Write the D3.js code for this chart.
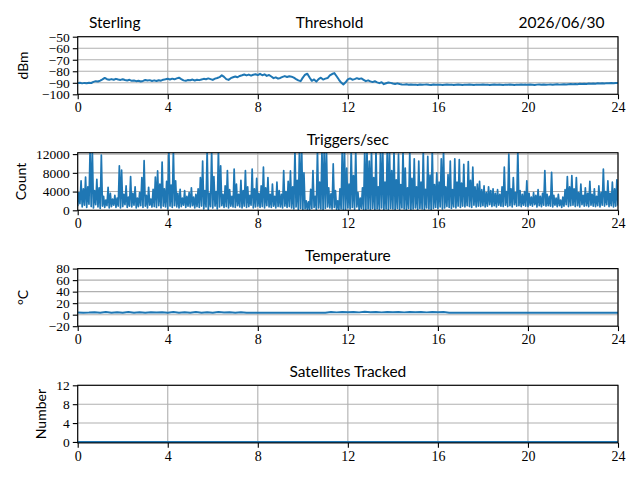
<!DOCTYPE html>
<html><head><meta charset="utf-8">
<script src="https://cdn.jsdelivr.net/npm/d3@7"></script>
<style>body{margin:0;background:#fff}svg{display:block}
.tk text{font-family:"Liberation Serif","DejaVu Serif",serif !important;}
</style>
</head><body>
<script>
// ---------- data ----------
const hourTicks = [0, 4, 8, 12, 16, 20, 24];
const thresholdTicks = [-100, -90, -80, -70, -60, -50];
const triggerTicks = [0, 4000, 8000, 12000];
const temperatureTicks = [-20, 0, 20, 40, 60, 80];
const satelliteTicks = [0, 4, 8, 12];

// Threshold (dBm), every 0.1 h from 0 to 24
const threshold = [
 -90.3,-90.0,-90.5,-90.1,-90.4,-89.9,-90.2,
 -89.2,-88.6,-88.9,-88.1,
 -87.0,-85.8,-86.9,
 -87.3,-86.8,-87.4,-86.6,-87.2,-87.5,-86.9,
 -87.6,-88.0,-87.4,-88.3,-88.0,-88.6,-88.2,-88.9,-88.4,-87.6,
 -88.1,-87.7,-88.4,-87.9,-88.5,-87.8,-88.2,-87.3,-87.0,
 -86.5,-87.1,-86.4,-87.0,-86.2,-85.6,-86.8,-87.9,-88.3,-87.6,
 -87.8,-87.2,-88.0,-87.4,-87.7,-87.1,-86.6,-86.9,-86.2,-86.8,
 -87.5,-86.4,-85.8,-85.1,-83.4,-84.9,-86.8,-87.5,-86.0,-85.2,
 -84.6,-85.2,-84.1,-83.5,-82.8,-83.6,-82.9,-83.8,-83.0,-82.6,
 -83.4,-82.2,-83.5,-82.7,-84.0,-83.2,-84.6,-86.0,-85.3,-86.4,
 -85.8,-84.9,-84.2,-85.0,-84.3,-84.7,-85.6,-86.8,-87.9,-88.6,
 -85.5,-83.0,-82.2,-85.4,-88.3,-87.1,-89.0,-86.8,-85.6,-87.2,
 -86.4,-85.9,-83.6,-82.4,-81.6,-84.3,-87.2,-89.8,-91.4,-89.6,
 -87.1,-86.2,-87.3,-86.8,-86.0,-86.7,-86.2,-87.4,-88.6,-87.9,
 -88.8,-89.4,-88.7,-89.6,-90.3,-89.5,-91.2,-90.4,-89.7,-90.1,
 -90.6,-91.0,-90.5,-91.1,-91.4,-91.6,-91.3,-91.7,-91.5,-91.8,
 -91.6,-91.9,-91.5,-91.8,-91.6,-91.4,-91.7,-91.9,-91.5,-91.7,
 -91.8,-91.6,-91.9,-91.7,-91.5,-91.8,-91.6,-91.9,-91.7,-91.5,
 -91.7,-91.9,-91.6,-91.8,-91.5,-91.7,-91.9,-91.6,-91.8,-91.7,
 -91.5,-91.8,-91.6,-91.9,-91.7,-91.5,-91.8,-91.6,-91.7,-91.9,
 -91.6,-91.8,-91.5,-91.7,-91.9,-91.6,-91.8,-91.5,-91.7,-91.6,
 -91.8,-91.5,-91.7,-91.9,-91.6,-91.4,-91.7,-91.5,-91.8,-91.6,
 -91.4,-91.7,-91.5,-91.3,-91.6,-91.4,-91.2,-91.5,-91.3,-91.1,
 -91.3,-91.0,-91.2,-90.9,-91.1,-90.8,-91.0,-90.7,-90.9,-90.6,
 -90.8,-90.5,-90.7,-90.4,-90.6,-90.3,-90.5,-90.2,-90.4,-90.1,
 -90.3
];

// Triggers/sec: high samples at (i*0.1 + 0.05) h
const triggerPeaks = [
 3800,6300,4600,7100,5000,13000,13000,4200,6600,4800,
 11800,3000,2200,4900,3600,2400,3200,2600,9500,8600,
 3400,5200,2800,7200,3600,5000,2600,3800,7000,10600,
 3200,4900,2400,4500,7100,8400,5600,10300,4600,6200,
 13000,5400,13000,6300,3600,4500,2600,4200,3000,3800,
 4800,2800,3400,4600,7000,10500,4200,13000,3600,13000,
 7200,4000,13000,9500,3400,5200,8500,4400,3000,8800,
 5600,3400,6400,4200,8500,5000,3200,8800,4600,6800,
 3600,5200,9200,4800,7000,3400,5600,3000,6000,4200,
 3400,8500,4000,6200,8400,5000,13000,6400,13000,13000,
 8000,2000,1800,4500,8500,3000,13000,6000,13000,13000,
 13000,4800,3500,9900,4200,2000,4600,13000,13000,9000,
 5600,13000,7400,13000,3800,2600,4800,13000,13000,10500,
 13000,7000,13000,5000,13000,13000,6000,13000,13000,8500,
 13000,6500,12000,5500,13000,9000,4800,12500,6800,11000,
 5000,10500,6000,13000,4500,11500,7500,13000,5500,8000,
 6000,11000,13000,5000,7600,10500,4400,11000,6000,10800,
 5800,9800,4800,10400,6400,9200,5000,5600,6200,4400,
 5200,3800,5000,4200,4600,3600,4400,3400,5000,9200,
 4000,12000,4600,7000,3800,13000,4200,3400,4000,6300,
 3600,2800,3800,3200,4400,3000,3600,8500,3400,3000,
 8100,3200,2600,3400,2200,2800,4400,7200,5000,7400,
 4600,7000,3800,5600,3200,4800,3600,6200,3400,4600,
 3000,5200,3800,8800,4000,6300,3600,6000,4600,6500
];
// Triggers/sec: low samples at (i*0.1) h
const triggerTroughs = [
 900,1400,700,1100,600,1300,800,500,1200,700,
 400,900,600,1000,500,800,1100,600,900,500,
 800,1200,600,900,700,1100,500,800,1000,600,
 900,500,1100,700,800,600,1000,500,900,700,
 300,900,600,1000,700,500,800,1100,600,900,
 700,1000,500,800,600,900,300,700,200,800,
 500,900,300,700,1000,600,800,500,900,700,
 600,1000,700,500,900,600,800,1100,500,700,
 900,600,800,500,1000,700,600,900,500,800,
 700,500,900,600,800,500,300,700,200,400,
 100,300,200,100,400,600,200,500,300,100,
 400,700,500,300,600,200,100,300,100,200,
 500,300,600,200,700,100,400,200,100,300,
 200,400,100,300,200,500,100,300,200,400,
 300,100,400,200,500,300,100,400,200,300,
 500,200,400,300,100,500,300,200,400,600,
 400,700,300,500,800,600,400,700,500,900,
 600,900,700,1000,800,600,1100,700,900,800,
 1000,700,900,1200,800,1000,700,1100,900,800,
 1100,800,1000,700,1200,900,1000,800,1100,900,
 800,1100,900,1200,700,1000,800,1100,900,1000,
 900,700,1100,800,1000,600,900,1200,800,1000,
 1100,800,1000,700,1200,900,1000,800,1100,900,
 800,1000,700,1100,900,1200,800,1000,700,900,
 1000
];

// Temperature (°C), every 0.25 h
const temperature = [
 3.6,3.5,3.6,
 4.2,3.3,4.5,3.4,4.3,3.2,4.6,3.5,4.2,3.3,4.4,3.6,4.3,3.3,4.5,3.4,4.2,3.2,4.5,3.5,4.3,3.3,4.6,3.6,4.2,3.3,4.4,3.4,
 3.4,3.5,3.4,3.5,3.4,3.5,3.4,3.5,3.4,3.5,3.4,3.5,3.4,3.5,
 4.6,4.0,4.8,4.1,4.7,4.0,4.9,4.2,4.6,4.0,4.8,4.1,4.6,4.0,4.8,4.2,4.7,4.0,4.8,4.1,4.5,
 3.4,3.5,3.5,3.4,3.5,3.5,3.4,3.5,3.5,3.4,3.5,3.5,3.4,3.5,3.5,3.4,3.5,3.5,3.4,3.5,3.5,3.4,3.5,3.5,3.4,3.5,3.5,3.4,3.5,3.5,3.4
];

// Satellites tracked, hourly
const satellites = [0,0,0,0,0,0,0,0,0,0,0,0,0,0,0,0,0,0,0,0,0,0,0,0,0];

// ---------- drawing ----------
const W = 640, H = 480;
const X0 = 77.7, X1 = 618, PH = 57.6;
const BLUE = "#1f77b4";
const svg = d3.select("body").append("svg").attr("width", W).attr("height", H);
const x = d3.scaleLinear().domain([0, 24]).range([X0, X1]);

const thrPts = threshold.map((v, i) => [i * 0.1, v]);
const trigPts = [];
triggerTroughs.forEach((v, i) => {
  trigPts.push([i * 0.1, v]);
  if (i < triggerPeaks.length) trigPts.push([i * 0.1 + 0.05, triggerPeaks[i]]);
});
const tempPts = temperature.map((v, i) => [i * 0.25, v]);
const satPts = satellites.map((v, i) => [i, v]);

const panels = [
  {top: 36.7, domain: [-100, -50], ticks: thresholdTicks, data: thrPts, ylabel: "dBm", lx: 28, title: null},
  {top: 152.7, domain: [0, 12300], ticks: triggerTicks, data: trigPts, ylabel: "Count", lx: 25.5, title: "Triggers/sec"},
  {top: 268.6, domain: [-20, 80], ticks: temperatureTicks, data: tempPts, ylabel: "°C", lx: 28, title: "Temperature"},
  {top: 385.3, domain: [-0.2, 12], ticks: satelliteTicks, data: satPts, ylabel: "Number", lx: 45.5, title: "Satellites Tracked"}
];

const fmt = v => (v < 0 ? "\u2212" + Math.abs(v) : String(v));
const SERIF = "'Liberation Serif', 'DejaVu Serif', serif";
const SANS = "Lato, 'Liberation Sans', sans-serif";

panels.forEach((p, k) => {
  const bottom = p.top + PH;
  const y = d3.scaleLinear().domain(p.domain).range([bottom, p.top]);
  const g = svg.append("g");
  // grid
  g.append("g").selectAll("line").data(hourTicks).join("line")
    .attr("x1", d => x(d)).attr("x2", d => x(d)).attr("y1", p.top).attr("y2", bottom)
    .attr("stroke", "#b0b0b0").attr("stroke-width", 1.1);
  g.append("g").selectAll("line").data(p.ticks).join("line")
    .attr("x1", X0).attr("x2", X1).attr("y1", d => y(d)).attr("y2", d => y(d))
    .attr("stroke", "#b0b0b0").attr("stroke-width", 1.1);
  // clip + line
  const cid = "clip" + k;
  svg.append("clipPath").attr("id", cid).append("rect")
    .attr("x", X0).attr("y", p.top).attr("width", X1 - X0).attr("height", PH);
  g.append("path").datum(p.data)
    .attr("clip-path", `url(#${cid})`)
    .attr("fill", "none").attr("stroke", BLUE).attr("stroke-width", k === 1 ? 1.7 : 2)
    .attr("stroke-linejoin", "round")
    .attr("d", d3.line().x(d => x(d[0])).y(d => y(d[1])));
  // frame
  g.append("rect").attr("x", X0).attr("y", p.top).attr("width", X1 - X0).attr("height", PH)
    .attr("fill", "none").attr("stroke", "#000").attr("stroke-width", 1.1);
  // x axis
  const xa = g.append("g").attr("class", "tk").attr("transform", `translate(0,${bottom})`)
    .call(d3.axisBottom(x).tickValues(hourTicks).tickFormat(d => d).tickSize(4.9).tickPadding(3));
  xa.select(".domain").remove();
  xa.selectAll("line").attr("stroke-width", 1.1);
  xa.selectAll("text").style("font-family", SERIF).style("font-size", "14px").attr("fill", "#000");
  // y axis
  const ya = g.append("g").attr("class", "tk").attr("transform", `translate(${X0},0)`)
    .call(d3.axisLeft(y).tickValues(p.ticks).tickFormat(fmt).tickSize(4.9).tickPadding(3));
  ya.select(".domain").remove();
  ya.selectAll("line").attr("stroke-width", 1.1);
  ya.selectAll("text").style("font-family", SERIF).style("font-size", "13.5px").attr("fill", "#000");
  // y label
  svg.append("text").attr("transform", `translate(${p.lx},${p.top + PH / 2}) rotate(-90)`)
    .attr("text-anchor", "middle").style("font-family", SANS).style("font-size", "14px")
    .text(p.ylabel);
  // title
  if (p.title) {
    svg.append("text").attr("x", (X0 + X1) / 2).attr("y", p.top - 8)
      .attr("text-anchor", "middle").style("font-family", SANS).style("font-size", "15.5px")
      .text(p.title);
  }
});

// header titles
svg.append("text").attr("x", 89).attr("y", 28.3).style("font-family", SANS).style("font-size", "15.5px").text("Sterling");
svg.append("text").attr("x", 329.5).attr("y", 28.3).attr("text-anchor", "middle").style("font-family", SANS).style("font-size", "15.5px").text("Threshold");
svg.append("text").attr("x", 604.5).attr("y", 28.3).attr("text-anchor", "end").style("font-family", SANS).style("font-size", "15.5px").text("2026/06/30");
</script>
</body></html>
